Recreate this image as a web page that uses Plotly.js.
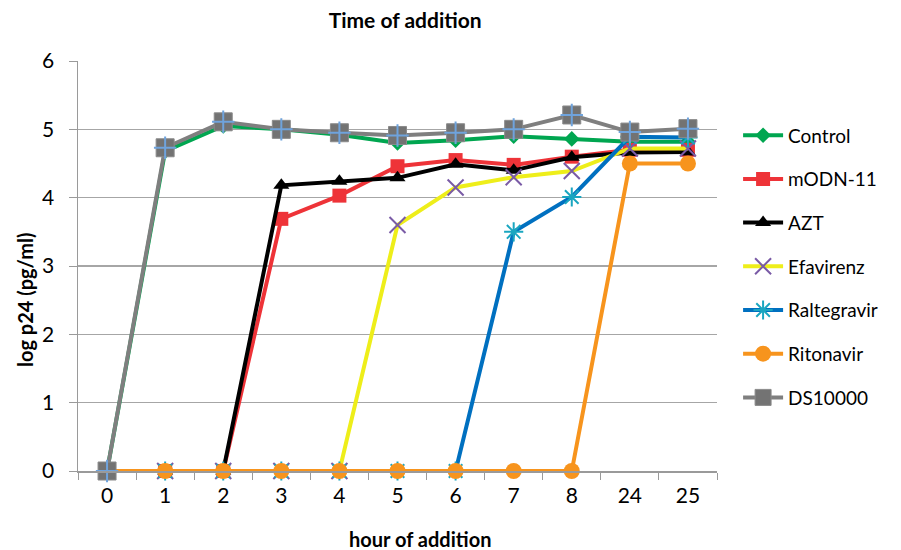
<!DOCTYPE html>
<html>
<head>
<meta charset="utf-8">
<script src="https://cdn.plot.ly/plotly-3.0.1.min.js"></script>
<style>html,body{margin:0;padding:0;background:#fff;}#chart{width:901px;height:550px;}</style>
</head>
<body>
<div id="chart"></div>
<script>
const hours = ["0","1","2","3","4","5","6","7","8","24","25"];
const control     = [0, 4.68, 5.05, 5.0, 4.92, 4.80, 4.84, 4.90, 4.86, 4.82, 4.82];
const modn11      = [0, 0, 0, 3.69, 4.03, 4.46, 4.55, 4.48, 4.60, 4.70, 4.70];
const azt         = [0, 0, 0, 4.18, 4.24, 4.29, 4.49, 4.40, 4.59, 4.66, 4.67];
const efavirenz   = [0, 0, 0, 0, 0, 3.60, 4.15, 4.30, 4.39, 4.72, 4.72];
const raltegravir = [0, 0, 0, 0, 0, 0, 0, 3.50, 4.01, 4.89, 4.88];
const ritonavir   = [0, 0, 0, 0, 0, 0, 0, 0, 0, 4.50, 4.50];
const ds10000     = [0, 4.73, 5.11, 5.0, 4.95, 4.91, 4.95, 5.0, 5.21, 4.96, 5.01];

const FONT = "Lato, 'Open Sans', sans-serif";

function tr(name, y, lineColor, width, marker, group) {
  return {
    x: hours, y: y, name: name, type: "scatter", mode: "lines+markers",
    line: {color: lineColor, width: width},
    marker: marker, legendgroup: group || name, cliponaxis: false
  };
}

const traces = [
  tr("Control", control, "#00A650", 4, {symbol: "diamond", size: 12, color: "#00A650"}),
  tr("mODN-11", modn11, "#EE3338", 4, {symbol: "square", size: 14, color: "#EE3338"}),
  tr("AZT", azt, "#000000", 4, {symbol: "triangle-up", size: 14, color: "#000000"}),
  tr("Efavirenz", efavirenz, "#EEEE1A", 4, {symbol: "x-thin-open", size: 16, color: "#7A5BA6", line: {color: "#7A5BA6", width: 2}}),
  tr("Raltegravir", raltegravir, "#0070C0", 4, {symbol: "asterisk-open", size: 16, color: "#1AA6C0", line: {color: "#1AA6C0", width: 2}}),
  tr("Ritonavir", ritonavir, "#F7941D", 4, {symbol: "circle", size: 16, color: "#F7941D"}),
  tr("DS10000", ds10000, "#7F7F7F", 4, {symbol: "square", size: 18, color: "#737373", line: {color: "#8A8A8A", width: 1}}),
  {x: hours, y: ds10000, name: "DS10000", type: "scatter", mode: "markers", showlegend: false,
   legendgroup: "DS10000", cliponaxis: false, hoverinfo: "skip",
   marker: {symbol: "cross-thin-open", size: 16, color: "#6FA3DC", line: {color: "#6FA3DC", width: 2}}}
];

const layout = {
  width: 901, height: 550,
  margin: {l: 78, r: 184, t: 61, b: 79},
  paper_bgcolor: "#ffffff", plot_bgcolor: "#ffffff",
  font: {family: FONT, size: 20, color: "#000000"},
  title: {text: "<b>Time of addition</b>", font: {family: FONT, size: 21, color: "#000"},
          x: 0.512, xanchor: "center", y: 0.962, yanchor: "middle", xref: "paper"},
  showlegend: true,
  legend: {x: 1.033, xanchor: "left", y: 0.865, yanchor: "top", traceorder: "grouped",
           tracegroupgap: 16, font: {family: FONT, size: 19, color: "#000"},
           bgcolor: "rgba(0,0,0,0)", itemwidth: 40},
  xaxis: {type: "category", categoryorder: "array", categoryarray: hours, range: [-0.5, 10.5],
          autorange: false,
          showgrid: false, showline: true, linecolor: "#9A9A9A", linewidth: 1.5,
          ticks: "outside", tickson: "boundaries", ticklen: 7, tickcolor: "#9A9A9A",
          ticklabelstandoff: 5,
          tickfont: {family: FONT, size: 21, color: "#000"}, zeroline: false,
          title: {text: ""}},
  yaxis: {range: [0, 6], dtick: 1, showgrid: true, gridcolor: "#A6A6A6", gridwidth: 1.5,
          showline: true, linecolor: "#9A9A9A", linewidth: 1.5,
          ticks: "outside", ticklen: 8, tickcolor: "#9A9A9A", zeroline: false,
          ticklabelstandoff: 10,
          tickfont: {family: FONT, size: 21, color: "#000"}, title: {text: ""}},
  annotations: [
    {text: "<b>hour of addition</b>", xref: "paper", yref: "paper",
     x: (420 - 78) / 639, y: -(539 - 471) / 410, xanchor: "center", yanchor: "middle",
     showarrow: false, font: {family: FONT, size: 20, color: "#000"}},
    {text: "<b>log p24 (pg/ml)</b>", xref: "paper", yref: "paper", textangle: -90,
     x: -(78 - 25) / 639, y: (471 - 300) / 410, xanchor: "center", yanchor: "middle",
     showarrow: false, font: {family: FONT, size: 20, color: "#000"}}
  ]
};

Plotly.newPlot("chart", traces, layout, {displayModeBar: false, staticPlot: true});
</script>
</body>
</html>
